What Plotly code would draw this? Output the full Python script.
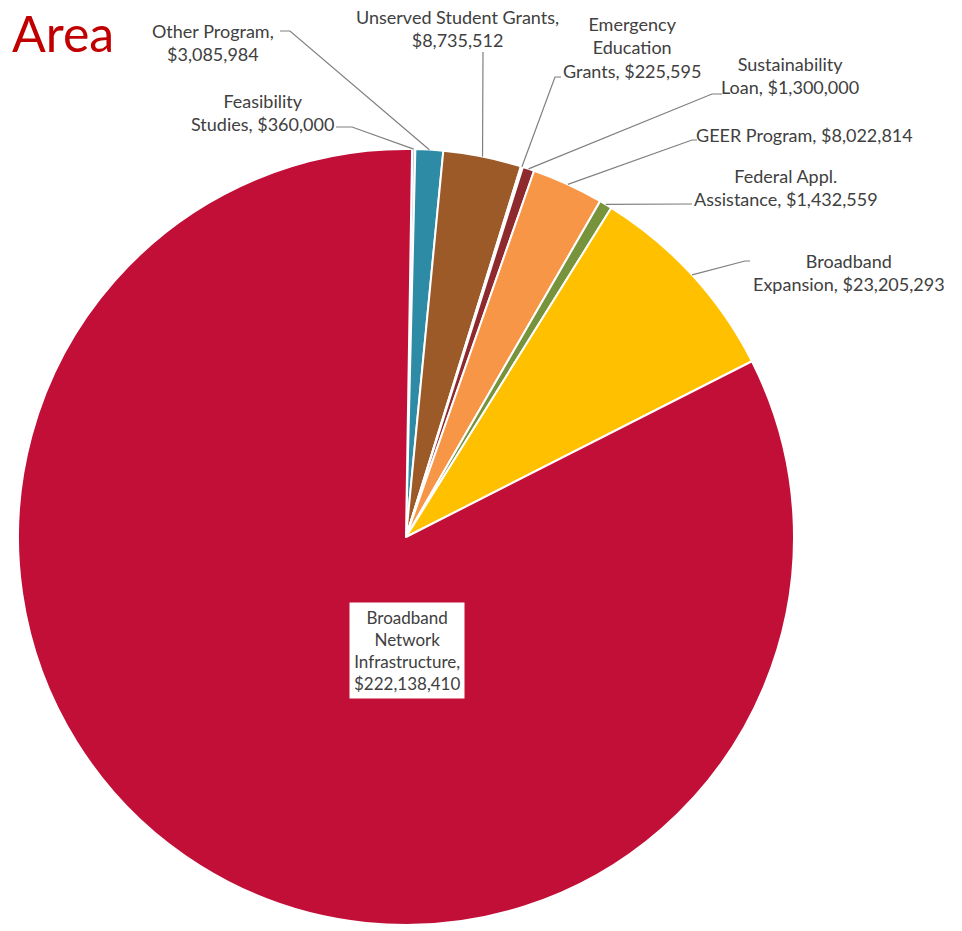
import math
import plotly.graph_objects as go

# ---- data ----
labels = ["Feasibility Studies", "Other Program", "Unserved Student Grants",
          "Emergency Education Grants", "Sustainability Loan", "GEER Program",
          "Federal Appl. Assistance", "Broadband Expansion",
          "Broadband Network Infrastructure"]
values = [360000, 3085984, 8735512, 225595, 1300000, 8022814, 1432559,
          23205293, 222138410]
label_texts = ["Feasibility<br>Studies, $360,000",
               "Other Program,<br>$3,085,984",
               "Unserved Student Grants,<br>$8,735,512",
               "Emergency<br>Education<br>Grants, $225,595",
               "Sustainability<br>Loan, $1,300,000",
               "GEER Program, $8,022,814",
               "Federal Appl.<br>Assistance, $1,432,559",
               "Broadband<br>Expansion, $23,205,293",
               "Broadband<br>Network<br>Infrastructure,<br>$222,138,410"]
colors = ["#C5D0E6", "#2D8BA6", "#9B5A27", "#7F7F7F", "#8E2A2E", "#F79646",
          "#77933C", "#FFC000", "#C10F38"]

# ---- layout constants (pixels) ----
W, H = 962, 931
CX, CY, R = 406, 537, 388
ROT = 0.9
FONT = "Lato"
TXT = "#404040"
# label centre positions (px)
label_pos = [(262, 112), (213, 42), (457, 29), (632, 48), (790, 76),
             (804, 135), (786, 188), (849, 273), (407, 650)]
label_size = [18, 18, 18, 18, 18, 18, 18, 18, 17]
# leader polyline points beyond the pie edge (px), None = no leader
leader_pts = [[(352, 127), (336, 127)],
              [(290, 31), (280, 31)],
              [(483, 52)],
              [(555, 77), (561, 77)],
              [(712, 94), (722, 94)],
              [(692, 140), (697, 140)],
              [(692, 204)],
              [(745, 261), (750, 261)],
              None]


def px(x):
    return x / W


def py(y):
    return 1 - y / H


fig = go.Figure(go.Pie(
    labels=labels, values=values, sort=False, direction="clockwise",
    rotation=ROT, textinfo="none", hoverinfo="label+value",
    marker=dict(colors=colors, line=dict(color="white", width=2)),
    domain=dict(x=[px(CX - R), px(CX + R)], y=[py(CY + R), py(CY - R)]),
    showlegend=False,
))

total = sum(values)
shapes = []
annotations = []
cum = 0
for i, v in enumerate(values):
    mid = (cum + v / 2) / total * 360 + ROT
    cum += v
    a = math.radians(mid)
    ex, ey = CX + R * math.sin(a), CY - R * math.cos(a)
    pts = leader_pts[i]
    if pts:
        path = f"M {px(ex)} {py(ey)}"
        for (x, y) in pts:
            path += f" L {px(x)} {py(y)}"
        shapes.append(dict(type="path", path=path, xref="paper", yref="paper",
                           line=dict(color="#7F7F7F", width=1.2)))
    lx, ly = label_pos[i]
    ann = dict(x=px(lx), y=py(ly), xref="paper", yref="paper",
               text=label_texts[i], showarrow=False, xanchor="center",
               yanchor="middle", align="center",
               font=dict(family=FONT, size=label_size[i], color=TXT))
    if i == len(values) - 1:
        ann.update(bgcolor="white", borderpad=4)
    annotations.append(ann)

annotations.append(dict(x=px(10), y=py(1), xref="paper", yref="paper",
                        text="Area", showarrow=False, xanchor="left",
                        yanchor="top",
                        font=dict(family="Lato", size=50, color="#C00000")))

fig.update_layout(width=W, height=H, margin=dict(l=0, r=0, t=0, b=0),
                  paper_bgcolor="white", plot_bgcolor="white",
                  shapes=shapes, annotations=annotations)

fig.write_html("out.html", config={"displayModeBar": False},
               post_script="document.body.style.margin='0';"
                           "document.body.style.overflow='hidden';")
